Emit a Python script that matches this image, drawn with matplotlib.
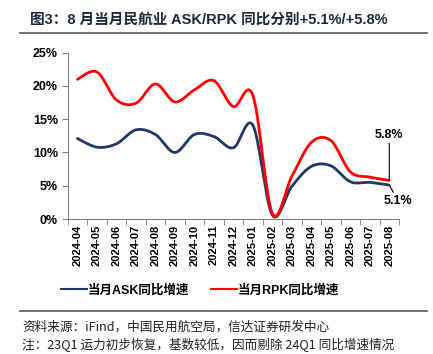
import numpy as np
import matplotlib
matplotlib.use("Agg")
import matplotlib.pyplot as plt
from matplotlib.lines import Line2D

plt.rcParams['font.family'] = ['Liberation Sans', 'Noto Sans CJK SC', 'DejaVu Sans']

months = ["2024-04", "2024-05", "2024-06", "2024-07", "2024-08", "2024-09", "2024-10",
          "2024-11", "2024-12", "2025-01", "2025-02", "2025-03", "2025-04", "2025-05",
          "2025-06", "2025-07", "2025-08"]
ask = [12.1, 10.8, 11.3, 13.4, 12.7, 10.0, 12.7, 12.4, 10.7, 14.1, 0.6, 4.9, 7.9, 8.0,
       5.6, 5.5, 5.1]
rpk = [21.0, 22.1, 17.9, 17.4, 20.3, 17.6, 19.4, 20.8, 16.9, 18.6, 0.85, 6.4, 11.5, 11.8,
       7.1, 6.3, 5.8]
ask_name = "当月ASK同比增速"
rpk_name = "当月RPK同比增速"
title = "图3：8 月当月民航业 ASK/RPK 同比分别+5.1%/+5.8%"
source1 = "资料来源：iFind，中国民用航空局，信达证券研发中心"
source2 = "注：23Q1 运力初步恢复，基数较低，因而剔除 24Q1 同比增速情况"

ask_color = "#1F3864"
rpk_color = "#FF0000"


def smooth(y, n=30):
    y = np.asarray(y, float)
    x = np.arange(len(y), dtype=float)
    P = np.column_stack([x, y])
    P = np.vstack([P[0], P, P[-1]])
    out = []
    for i in range(1, len(P) - 2):
        p0, p1, p2, p3 = P[i - 1], P[i], P[i + 1], P[i + 2]
        t = np.linspace(0, 1, n, endpoint=False)[:, None]
        c = 0.5 * ((2 * p1) + (-p0 + p2) * t + (2 * p0 - 5 * p1 + 4 * p2 - p3) * t ** 2
                   + (-p0 + 3 * p1 - 3 * p2 + p3) * t ** 3)
        out.append(c)
    out.append(P[-2][None, :])
    out = np.vstack(out)
    return out[:, 0], out[:, 1]


fig = plt.figure(figsize=(4.33, 3.54), dpi=100)
W, H = 433, 354
ax = fig.add_axes([67.7 / W, 1 - 219 / H, (399 - 67.7) / W, (219 - 52.7) / H])

xs, ys = smooth(ask)
ax.plot(xs, ys, color=ask_color, lw=2.0, solid_capstyle='round')
xs, ys = smooth(rpk)
ax.plot(xs, ys, color=rpk_color, lw=2.0, solid_capstyle='round')

ax.set_xlim(-0.5, len(months) - 0.5)
ax.set_ylim(0, 25)
ax.set_yticks([0, 5, 10, 15, 20, 25])
ax.set_yticklabels([f"{v}%" for v in [0, 5, 10, 15, 20, 25]], fontsize=9, fontweight='bold')
ax.set_xticks(np.arange(len(months)))
ax.set_xticklabels(months, rotation=90, fontsize=8, fontweight='bold')
ax.set_xticks(np.arange(len(months) + 1) - 0.5, minor=True)
ax.tick_params(axis='x', which='major', length=0, pad=4)
ax.tick_params(axis='x', which='minor', length=4, direction='out', color='#808080')
ax.tick_params(axis='y', length=4, direction='out', color='#808080', pad=3)
for s in ['top', 'right']:
    ax.spines[s].set_visible(False)
for s in ['left', 'bottom']:
    ax.spines[s].set_color('#808080')
    ax.spines[s].set_linewidth(0.8)

n = len(months) - 1
ax.annotate(f"{rpk[-1]}%", xy=(n, rpk[-1]), xytext=(n, 11.8), ha='center', va='bottom',
            fontsize=9, fontweight='bold',
            arrowprops=dict(arrowstyle='-', color='black', lw=0.8, shrinkA=0, shrinkB=0))
ax.annotate(f"{ask[-1]}%", xy=(n, ask[-1]), xytext=(n + 0.46, 3.6), ha='center', va='top',
            fontsize=9, fontweight='bold', annotation_clip=False,
            arrowprops=dict(arrowstyle='-', color='black', lw=0.8, shrinkA=0, shrinkB=1))

fig.text(30 / W, 1 - 20 / H, title, fontsize=10.5, fontweight='bold', color='#1c2840',
         va='center', ha='left', family=['Liberation Sans', 'Noto Sans CJK SC'])
fig.add_artist(Line2D([20 / W, 427 / W], [1 - 33 / H, 1 - 33 / H], color='#555555', lw=1.2))

handles = [Line2D([], [], color=ask_color, lw=1.5), Line2D([], [], color=rpk_color, lw=1.5)]
fig.legend(handles, [ask_name, rpk_name], loc='center', bbox_to_anchor=(200 / W, 1 - 290 / H),
           ncol=2, frameon=False, handlelength=2.1, handletextpad=0.1, columnspacing=1.7,
           prop=dict(family=['Liberation Sans', 'Noto Sans CJK SC'], weight='bold', size=9))

fig.add_artist(Line2D([20 / W, 427 / W], [1 - 311 / H, 1 - 311 / H], color='#555555', lw=1.2))
fig.text(22 / W, 1 - 327 / H, source1, fontsize=9.1, va='center', ha='left',
         family=['Noto Sans CJK SC', 'DejaVu Sans'], color='#222222')
fig.text(22 / W, 1 - 345 / H, source2, fontsize=9.1, va='center', ha='left',
         family=['Noto Sans CJK SC', 'DejaVu Sans'], color='#222222')

fig.savefig("out.png", dpi=100)
